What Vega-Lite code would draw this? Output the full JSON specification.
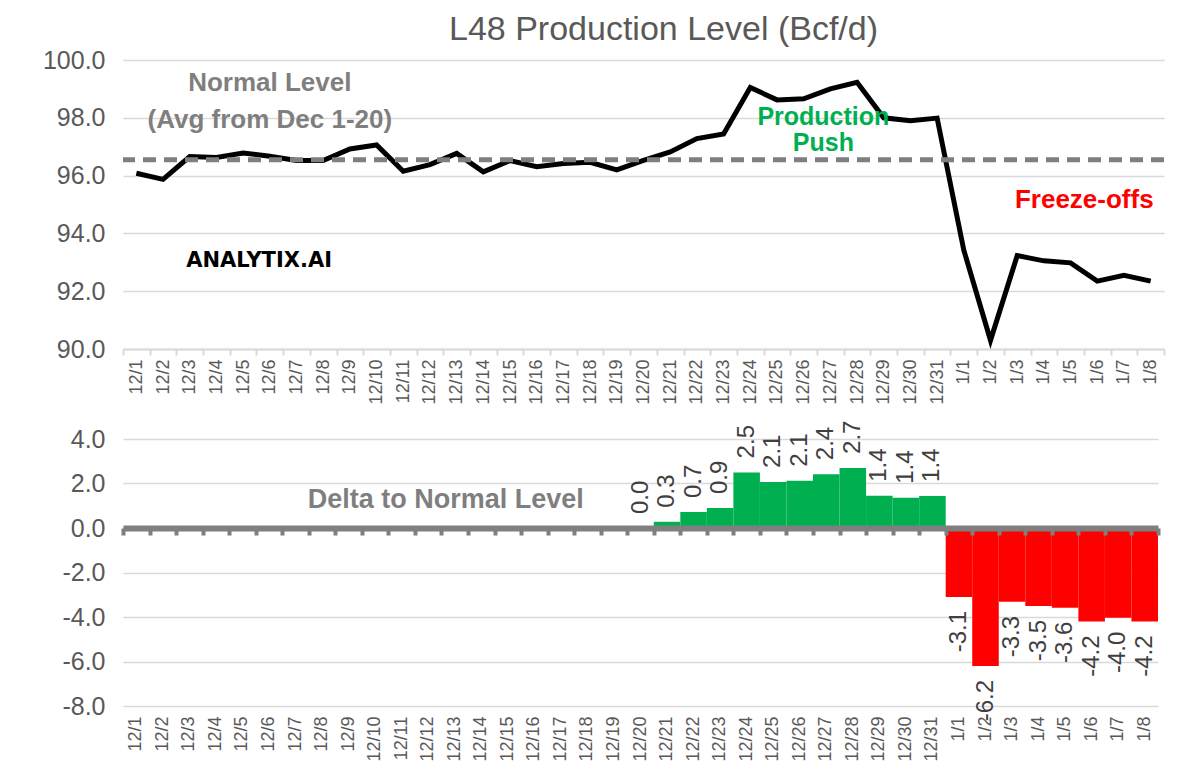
{
  "$schema": "https://vega.github.io/schema/vega-lite/v6.json",
  "background": "white",
  "padding": {"left": 42, "top": 13, "right": 5, "bottom": 5},
  "config": {
    "font": "Liberation Sans",
    "locale": {"number": {"decimal": ".", "thousands": ",", "grouping": [3], "currency": ["$", ""], "minus": "-"}},
    "view": {"stroke": null},
    "axis": {"labelFont": "Liberation Sans", "labelColor": "#595959", "gridColor": "#d9d9d9", "gridWidth": 1.5}
  },
  "datasets": {
    "prod": [
      {"date": "12/1", "prod": 96.08}, {"date": "12/2", "prod": 95.87}, {"date": "12/3", "prod": 96.66},
      {"date": "12/4", "prod": 96.63}, {"date": "12/5", "prod": 96.78}, {"date": "12/6", "prod": 96.67},
      {"date": "12/7", "prod": 96.52}, {"date": "12/8", "prod": 96.52}, {"date": "12/9", "prod": 96.92},
      {"date": "12/10", "prod": 97.06}, {"date": "12/11", "prod": 96.15}, {"date": "12/12", "prod": 96.38},
      {"date": "12/13", "prod": 96.77}, {"date": "12/14", "prod": 96.13}, {"date": "12/15", "prod": 96.52},
      {"date": "12/16", "prod": 96.31}, {"date": "12/17", "prod": 96.42}, {"date": "12/18", "prod": 96.46},
      {"date": "12/19", "prod": 96.2}, {"date": "12/20", "prod": 96.53}, {"date": "12/21", "prod": 96.82},
      {"date": "12/22", "prod": 97.28}, {"date": "12/23", "prod": 97.44}, {"date": "12/24", "prod": 99.05},
      {"date": "12/25", "prod": 98.62}, {"date": "12/26", "prod": 98.66}, {"date": "12/27", "prod": 99.0},
      {"date": "12/28", "prod": 99.23}, {"date": "12/29", "prod": 98.0}, {"date": "12/30", "prod": 97.9},
      {"date": "12/31", "prod": 97.99}, {"date": "1/1", "prod": 93.42}, {"date": "1/2", "prod": 90.3},
      {"date": "1/3", "prod": 93.23}, {"date": "1/4", "prod": 93.05}, {"date": "1/5", "prod": 92.98},
      {"date": "1/6", "prod": 92.35}, {"date": "1/7", "prod": 92.55}, {"date": "1/8", "prod": 92.35}
    ],
    "delta": [
      {"date": "12/20", "delta": 0.0}, {"date": "12/21", "delta": 0.28}, {"date": "12/22", "delta": 0.72},
      {"date": "12/23", "delta": 0.9}, {"date": "12/24", "delta": 2.5}, {"date": "12/25", "delta": 2.07},
      {"date": "12/26", "delta": 2.12}, {"date": "12/27", "delta": 2.42}, {"date": "12/28", "delta": 2.7},
      {"date": "12/29", "delta": 1.45}, {"date": "12/30", "delta": 1.36}, {"date": "12/31", "delta": 1.44},
      {"date": "1/1", "delta": -3.1}, {"date": "1/2", "delta": -6.2}, {"date": "1/3", "delta": -3.32},
      {"date": "1/4", "delta": -3.5}, {"date": "1/5", "delta": -3.58}, {"date": "1/6", "delta": -4.2},
      {"date": "1/7", "delta": -4.03}, {"date": "1/8", "delta": -4.2}
    ]
  },
  "spacing": 90,
  "bounds": "flush",
  "vconcat": [
    {
      "width": 1041,
      "height": 289,
      "title": {"text": "L48 Production Level (Bcf/d)", "fontSize": 34, "fontWeight": "normal", "color": "#595959", "offset": 1, "dx": 20, "anchor": "middle", "font": "Liberation Sans"},
      "layer": [
        {
          "data": {"name": "prod"},
          "mark": {"type": "line", "color": "black", "strokeWidth": 5},
          "encoding": {
            "x": {"field": "date", "type": "ordinal", "bandPosition": 0.5,
              "scale": {"type": "band", "paddingInner": 0, "paddingOuter": 0,
                "domain": ["12/1","12/2","12/3","12/4","12/5","12/6","12/7","12/8","12/9","12/10","12/11","12/12","12/13","12/14","12/15","12/16","12/17","12/18","12/19","12/20","12/21","12/22","12/23","12/24","12/25","12/26","12/27","12/28","12/29","12/30","12/31","1/1","1/2","1/3","1/4","1/5","1/6","1/7","1/8"]},
              "axis": {"title": null, "labelAngle": -90, "labelFontSize": 18, "tickBand": "extent", "tickColor": "#d9d9d9", "tickSize": 6, "tickWidth": 2, "domainColor": "#d9d9d9", "domainWidth": 2, "labelPadding": 4, "grid": false}},
            "y": {"field": "prod", "type": "quantitative", "scale": {"domain": [90, 100], "zero": false, "nice": false},
              "axis": {"title": null, "values": [90, 92, 94, 96, 98, 100], "format": ".1f", "labelFontSize": 25, "labelPadding": 18, "domain": false, "ticks": false, "grid": true}}
          }
        },
        {
          "data": {"values": [{}]},
          "mark": {"type": "rule", "color": "#7f7f7f", "strokeWidth": 5, "strokeDash": [13, 8]},
          "encoding": {"y": {"datum": 96.55}}
        },
        {
          "data": {"values": [{"x": "12/6", "y": 99.2, "t": "Normal Level"}, {"x": "12/6", "y": 97.92, "t": "(Avg from Dec 1-20)"}]},
          "mark": {"type": "text", "color": "#7f7f7f", "fontSize": 26, "fontWeight": "bold", "align": "center", "baseline": "middle"},
          "encoding": {"x": {"field": "x", "type": "ordinal", "bandPosition": 0.5}, "y": {"field": "y", "type": "quantitative"}, "text": {"field": "t"}}
        },
        {
          "data": {"values": [{"x": "12/5", "y": 93.05, "t": "ANALYTIX.AI"}]},
          "mark": {"type": "text", "color": "black", "font": "DejaVu Sans", "fontSize": 21, "fontWeight": "bold", "align": "center", "baseline": "middle", "dx": 16},
          "encoding": {"x": {"field": "x", "type": "ordinal", "bandPosition": 0.5}, "y": {"field": "y", "type": "quantitative"}, "text": {"field": "t"}}
        },
        {
          "data": {"values": [{"x": "12/27", "y": 98.03, "t": "Production"}, {"x": "12/27", "y": 97.13, "t": "Push"}]},
          "mark": {"type": "text", "color": "#00b050", "fontSize": 25, "fontWeight": "bold", "align": "center", "baseline": "middle", "dx": -7},
          "encoding": {"x": {"field": "x", "type": "ordinal", "bandPosition": 0.5}, "y": {"field": "y", "type": "quantitative"}, "text": {"field": "t"}}
        },
        {
          "data": {"values": [{"x": "1/6", "y": 95.16, "t": "Freeze-offs"}]},
          "mark": {"type": "text", "color": "#ff0000", "fontSize": 26, "fontWeight": "bold", "align": "center", "baseline": "middle", "dx": -13},
          "encoding": {"x": {"field": "x", "type": "ordinal", "bandPosition": 0.5}, "y": {"field": "y", "type": "quantitative"}, "text": {"field": "t"}}
        }
      ]
    },
    {
      "width": 1035,
      "height": 267,
      "resolve": {"axis": {"x": "independent"}},
      "layer": [
        {
          "data": {"name": "delta"},
          "mark": {"type": "bar"},
          "encoding": {
            "x": {"field": "date", "type": "ordinal",
              "scale": {"type": "band", "paddingInner": 0, "paddingOuter": 0,
                "domain": ["12/1","12/2","12/3","12/4","12/5","12/6","12/7","12/8","12/9","12/10","12/11","12/12","12/13","12/14","12/15","12/16","12/17","12/18","12/19","12/20","12/21","12/22","12/23","12/24","12/25","12/26","12/27","12/28","12/29","12/30","12/31","1/1","1/2","1/3","1/4","1/5","1/6","1/7","1/8"]},
              "axis": {"title": null, "orient": "bottom", "labelAngle": -90, "labelFontSize": 18, "domain": false, "ticks": false, "labelPadding": 10, "grid": false}},
            "y": {"field": "delta", "type": "quantitative", "scale": {"domain": [-8, 4], "nice": false, "zero": false},
              "axis": {"title": null, "values": [-8, -6, -4, -2, 0, 2, 4], "format": ".1f", "labelFontSize": 25, "labelPadding": 18, "domain": false, "ticks": false, "grid": true}},
            "color": {"condition": {"test": "datum.delta > 0", "value": "#00b050"}, "value": "#ff0000"}
          }
        },
        {
          "data": {"name": "delta"},
          "transform": [{"filter": "datum.delta >= 0"}],
          "mark": {"type": "text", "angle": 270, "align": "left", "baseline": "middle", "dx": 14, "fontSize": 24, "color": "#404040"},
          "encoding": {
            "x": {"field": "date", "type": "ordinal", "bandPosition": 0.5,
              "axis": {"title": null, "orient": "top", "offset": -89, "labels": false, "domainColor": "#7f7f7f", "domainWidth": 6, "ticks": true, "tickBand": "extent", "tickSize": -7, "tickWidth": 4, "tickColor": "#7f7f7f", "grid": false, "zindex": 1}},
            "y": {"field": "delta", "type": "quantitative"},
            "text": {"field": "delta", "format": ".1f"}
          }
        },
        {
          "data": {"name": "delta"},
          "transform": [{"filter": "datum.delta < 0"}],
          "mark": {"type": "text", "angle": 270, "align": "right", "baseline": "middle", "dx": -14, "fontSize": 24, "color": "#404040"},
          "encoding": {
            "x": {"field": "date", "type": "ordinal", "bandPosition": 0.5,
              "axis": {"title": null, "orient": "bottom", "labels": false, "domain": false, "ticks": false, "grid": false}},
            "y": {"field": "delta", "type": "quantitative"},
            "text": {"field": "delta", "format": ".1f"}
          }
        },
        {
          "data": {"values": [{"x": "12/13", "y": 1.26, "t": "Delta to Normal Level"}]},
          "mark": {"type": "text", "color": "#7f7f7f", "fontSize": 27, "fontWeight": "bold", "align": "center", "baseline": "middle", "dx": -9},
          "encoding": {
            "x": {"field": "x", "type": "ordinal", "bandPosition": 0.5,
              "axis": {"title": null, "orient": "bottom", "labels": false, "domain": false, "ticks": false, "grid": false}},
            "y": {"field": "y", "type": "quantitative"},
            "text": {"field": "t"}
          }
        }
      ]
    }
  ]
}
